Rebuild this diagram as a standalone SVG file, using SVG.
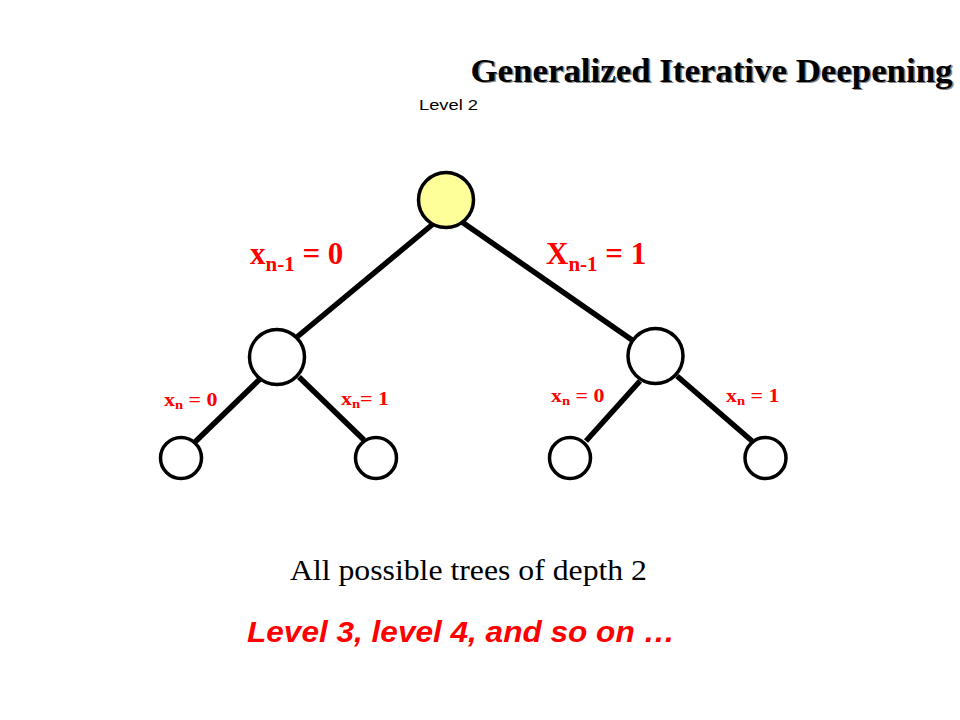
<svg xmlns="http://www.w3.org/2000/svg" width="960" height="720" viewBox="0 0 960 720">
<style>
.node{fill:#fff;stroke:#000;stroke-width:3.5}
.edge{stroke:#000;stroke-width:5.5;stroke-linecap:butt}
.lbl{font-family:"Liberation Serif","Times New Roman",serif;font-weight:bold;fill:#ff0000}
.big{font-size:31px}
.small{font-size:18px}
.title{font-family:"Liberation Serif","Times New Roman",serif;font-weight:bold;font-size:34px}
</style>
<rect width="960" height="720" fill="#fff"/>
<g id="title">
<text class="title" x="472" y="83" fill="#888" textLength="482" lengthAdjust="spacingAndGlyphs">Generalized Iterative Deepening</text>
<text class="title" x="470.5" y="81.5" fill="#000" textLength="482" lengthAdjust="spacingAndGlyphs">Generalized Iterative Deepening</text>
</g>
<text id="level2" x="419" y="110" font-family="Liberation Sans, Arial, sans-serif" font-size="15" fill="#000" textLength="59" lengthAdjust="spacingAndGlyphs">Level 2</text>
<g id="connectors">
<line class="edge" x1="433" y1="224" x2="297" y2="337"/>
<line class="edge" x1="462" y1="222" x2="632" y2="340"/>
<line class="edge" x1="261" y1="378" x2="195" y2="442"/>
<line class="edge" x1="299" y1="377" x2="364" y2="440"/>
<line class="edge" x1="640" y1="381" x2="586" y2="441"/>
<line class="edge" x1="677" y1="376" x2="752" y2="441"/>
</g>
<g id="root"><circle cx="446" cy="200" r="27.5" fill="#ffff99" stroke="#000" stroke-width="3.5"/></g>
<g id="left"><circle class="node" cx="277" cy="357" r="27.5"/></g>
<g id="right"><circle class="node" cx="655.5" cy="356" r="27.5"/></g>
<g id="leaf1"><circle class="node" cx="181" cy="458" r="20.5"/></g>
<g id="leaf2"><circle class="node" cx="376" cy="458" r="20.5"/></g>
<g id="leaf3"><circle class="node" cx="570" cy="458" r="20.5"/></g>
<g id="leaf4"><circle class="node" cx="765.5" cy="458" r="20.5"/></g>
<g id="labels">
<text class="lbl big" x="250" y="264">x<tspan font-size="21" dy="7">n-1</tspan><tspan dy="-7"> = 0</tspan></text>
<text class="lbl big" x="546" y="264">X<tspan font-size="21" dy="7">n-1</tspan><tspan dy="-7"> = 1</tspan></text>
<text class="lbl small" transform="translate(164,406) scale(1.22,1)">x<tspan font-size="12" dy="3">n</tspan><tspan dy="-3"> = 0</tspan></text>
<text class="lbl small" transform="translate(341,405) scale(1.22,1)">x<tspan font-size="12" dy="3">n</tspan><tspan dy="-3">= 1</tspan></text>
<text class="lbl small" transform="translate(551,402) scale(1.22,1)">x<tspan font-size="12" dy="3">n</tspan><tspan dy="-3"> = 0</tspan></text>
<text class="lbl small" transform="translate(726,402) scale(1.22,1)">x<tspan font-size="12" dy="3">n</tspan><tspan dy="-3"> = 1</tspan></text>
</g>
<text id="caption" x="290" y="580" font-family="Liberation Serif, Times New Roman, serif" font-size="30" fill="#000" textLength="357" lengthAdjust="spacingAndGlyphs">All possible trees of depth 2</text>
<text id="note" x="247" y="642" font-family="Liberation Sans, Arial, sans-serif" font-size="29" font-weight="bold" font-style="italic" fill="#ff0000" textLength="428" lengthAdjust="spacingAndGlyphs">Level 3, level 4, and so on …</text>
</svg>
